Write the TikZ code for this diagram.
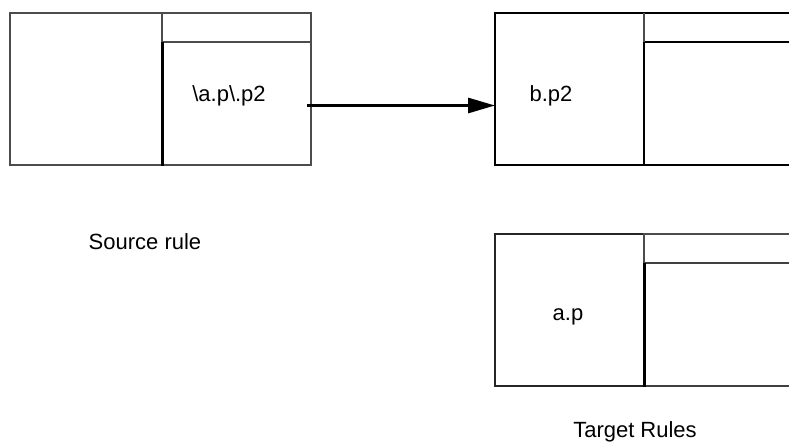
\documentclass[tikz,border=0pt]{standalone}
\usepackage{fontspec}
\setmainfont{Liberation Sans}
\usetikzlibrary{arrows.meta}
\begin{document}
\begin{tikzpicture}[x=1pt,y=-1pt,
  thinline/.style={draw=black!70,line width=1.2pt},
  midline/.style={draw=black!85,line width=1.8pt},
  thickline/.style={draw=black,line width=3pt},
  lbl/.style={font=\fontsize{22}{26}\selectfont,inner sep=0pt,anchor=base},
  cell/.style={inner sep=0pt,outer sep=0pt}]
\useasboundingbox (0,0) rectangle (789,445);
% Source rule
\node[cell,thinline,minimum width=152pt,minimum height=152pt] (srcL) at (86,89) {};
\node[cell,thinline,minimum width=149pt,minimum height=29pt] (srcT) at (236.5,27.5) {};
\node[cell,thinline,minimum width=149pt,minimum height=123pt] (srcR) at (236.5,103.5) {};
\draw[thickline] (srcR.north west) -- ([yshift=-1pt]srcR.south west);
\node[lbl] (srcTxt) at (229,101) {\textbackslash a.p\textbackslash .p2};
% Target top
\node[cell,thickline,line width=2.5pt,minimum width=149pt,minimum height=152pt] (tgtL) at (569.5,89) {};
\node[cell,thickline,line width=2.5pt,minimum width=160pt,minimum height=29pt] (tgtT) at (724,27.5) {};
\node[cell,thickline,line width=2.5pt,minimum width=160pt,minimum height=123pt] (tgtR) at (724,103.5) {};
\draw[thinline] (tgtT.north west) -- (tgtT.south west);
\node[lbl] (tgtTxt) at (551,101) {b.p2};
% Target bottom
\node[cell,midline,minimum width=149pt,minimum height=152pt] (botL) at (569.5,310) {};
\node[cell,thinline,minimum width=160pt,minimum height=29pt] (botT) at (724,248.5) {};
\node[cell,midline,draw=black!75,minimum width=160pt,minimum height=123pt] (botR) at (724,324.5) {};
\draw[thickline] (botR.north west) -- ([yshift=-1pt]botR.south west);
\node[lbl] (botTxt) at (568,320) {a.p};
% Arrow
\coordinate (aStart) at ([xshift=-4pt,yshift=-2pt]srcR.east);
\draw[line width=3pt,-{Triangle[length=27pt,width=15pt]}] (aStart) -- (aStart -| tgtL.west);
% Labels
\node[lbl] (srcLbl) at (145,249) {Source rule};
\node[lbl] (tgtLbl) at (635,437) {Target Rules};
\end{tikzpicture}
\end{document}
